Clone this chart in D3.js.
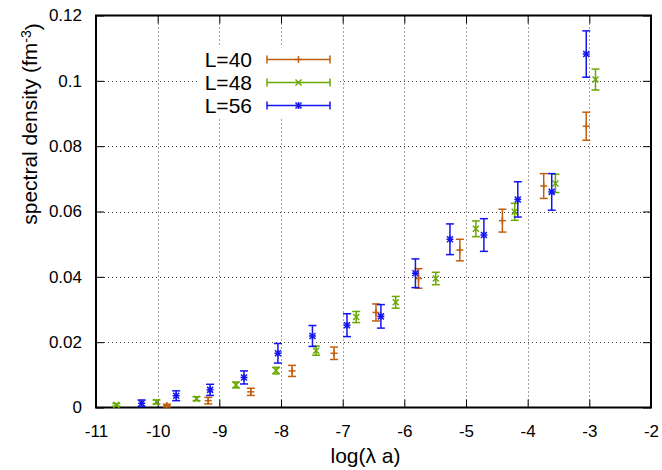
<!DOCTYPE html>
<html lang="en">
<head>
    <meta charset="UTF-8">
    <script src="https://cdn.jsdelivr.net/npm/d3@7/dist/d3.min.js"></script>
    <title>Spectral density</title>
    <style>
        body { margin: 0; background: #fff; }
        text { font-family: "Liberation Sans", Arial, sans-serif; }
    </style>
</head>
<body>
    <script>
        // L=40
        var x40 = [-9.85, -9.18, -8.49, -7.82, -7.14, -6.46, -5.77, -5.10, -4.41, -3.74, -3.05];
        var y40 = [0.0006, 0.0021, 0.0048, 0.0112, 0.0166, 0.0291, 0.0395, 0.0482, 0.0572, 0.0678, 0.0861];
        var e40 = [0.0004, 0.0010, 0.0011, 0.0017, 0.0019, 0.0026, 0.0030, 0.0033, 0.0035, 0.0038, 0.0043];
        // L=48
        var x48 = [-10.67, -10.02, -9.37, -8.73, -8.08, -7.43, -6.78, -6.14, -5.49, -4.84, -4.21, -3.55, -2.90];
        var y48 = [0.0008, 0.0017, 0.0027, 0.0069, 0.0113, 0.0174, 0.0277, 0.0322, 0.0395, 0.0547, 0.0599, 0.0686, 0.1004];
        var e48 = [0.0004, 0.0006, 0.0006, 0.0009, 0.0010, 0.0014, 0.0017, 0.0018, 0.0019, 0.0024, 0.0026, 0.0028, 0.0032];
        // L=56
        var x56 = [-10.26, -9.70, -9.15, -8.60, -8.05, -7.49, -6.93, -6.38, -5.82, -5.26, -4.71, -4.16, -3.61, -3.05];
        var y56 = [0.0013, 0.0036, 0.0054, 0.0092, 0.0166, 0.0219, 0.0252, 0.0279, 0.0411, 0.0515, 0.0528, 0.0637, 0.0660, 0.1082];
        var e56 = [0.0010, 0.0015, 0.0017, 0.0020, 0.0030, 0.0032, 0.0035, 0.0036, 0.0044, 0.0047, 0.0050, 0.0054, 0.0056, 0.0071];

        var xTicks = [-11, -10, -9, -8, -7, -6, -5, -4, -3, -2];
        var yTicks = [0, 0.02, 0.04, 0.06, 0.08, 0.1, 0.12];
        var yTickLabels = ["0", "0.02", "0.04", "0.06", "0.08", "0.1", "0.12"];

        var series = [
            { name: "L=40", x: x40, y: y40, e: e40, color: "#c0600e", marker: "plus" },
            { name: "L=48", x: x48, y: y48, e: e48, color: "#68a800", marker: "cross" },
            { name: "L=56", x: x56, y: y56, e: e56, color: "#1414f0", marker: "star" }
        ];

        var width = 662, height = 470;
        var pL = 96, pR = 651, pT = 15.5, pB = 407.5;

        var x = d3.scaleLinear().domain([-11, -2]).range([pL, pR]);
        var y = d3.scaleLinear().domain([0, 0.12]).range([pB, pT]);

        var svg = d3.select("body").append("svg").attr("width", width).attr("height", height);

        // grid
        var grid = svg.append("g").attr("stroke", "#444").attr("stroke-width", 1).attr("stroke-dasharray", "1,3");
        grid.selectAll(".gx").data(xTicks.slice(1, -1)).enter().append("line")
            .attr("x1", function (d) { return Math.round(x(d)) + 0.5; })
            .attr("x2", function (d) { return Math.round(x(d)) + 0.5; })
            .attr("y1", pT).attr("y2", pB);
        grid.selectAll(".gy").data(yTicks.slice(1, -1)).enter().append("line")
            .attr("y1", function (d) { return Math.round(y(d)) + 0.5; })
            .attr("y2", function (d) { return Math.round(y(d)) + 0.5; })
            .attr("x1", pL).attr("x2", pR);

        // axes with inward ticks on all sides
        var tl = 8;
        var xb = d3.axisBottom(x).tickValues(xTicks).tickSize(-tl).tickPadding(tl + 9).tickFormat(d3.format("d"));
        var xt = d3.axisTop(x).tickValues(xTicks).tickSize(-tl).tickFormat("");
        var yl = d3.axisLeft(y).tickValues(yTicks).tickSize(-tl).tickPadding(tl + 6)
            .tickFormat(function (d, i) { return yTickLabels[i]; });
        var yr = d3.axisRight(y).tickValues(yTicks).tickSize(-tl).tickFormat("");

        function styleAxis(g) {
            g.selectAll(".domain").remove();
            g.selectAll("line").attr("stroke", "#000").attr("stroke-width", 1);
            g.selectAll("text").attr("fill", "#000").style("font-size", "17px")
                .style("font-family", "'Liberation Sans', Arial, sans-serif");
        }
        svg.append("g").attr("transform", "translate(0," + pB + ")").call(xb).call(styleAxis)
            .selectAll("text").text(function (d) { return String(d); });
        svg.append("g").attr("transform", "translate(0," + pT + ")").call(xt).call(styleAxis);
        svg.append("g").attr("transform", "translate(" + pL + ",0)").call(yl).call(styleAxis);
        svg.append("g").attr("transform", "translate(" + pR + ",0)").call(yr).call(styleAxis);

        // legend background (hides grid)
        svg.append("rect").attr("x", 197).attr("y", 47).attr("width", 143).attr("height", 70).attr("fill", "#fff");

        // frame
        svg.append("rect").attr("x", pL).attr("y", pT).attr("width", pR - pL).attr("height", pB - pT)
            .attr("fill", "none").attr("stroke", "#000").attr("stroke-width", 2);

        function drawMarker(g, type, cx, cy) {
            var s = 3.5;
            if (type === "plus" || type === "star") {
                g.append("line").attr("x1", cx - s).attr("x2", cx + s).attr("y1", cy).attr("y2", cy);
                g.append("line").attr("x1", cx).attr("x2", cx).attr("y1", cy - s).attr("y2", cy + s);
            }
            if (type === "cross" || type === "star") {
                var c = 3;
                g.append("line").attr("x1", cx - c).attr("x2", cx + c).attr("y1", cy - c).attr("y2", cy + c);
                g.append("line").attr("x1", cx - c).attr("x2", cx + c).attr("y1", cy + c).attr("y2", cy - c);
            }
        }

        var cap = 4;
        series.forEach(function (s, k) {
            var g = svg.append("g").attr("stroke", s.color).attr("stroke-width", 1.5).attr("fill", "none");
            s.x.forEach(function (xv, i) {
                var cx = x(xv), y0 = y(s.y[i] - s.e[i]), y1 = y(s.y[i] + s.e[i]);
                g.append("line").attr("x1", cx).attr("x2", cx).attr("y1", y0).attr("y2", y1);
                g.append("line").attr("x1", cx - cap).attr("x2", cx + cap).attr("y1", y0).attr("y2", y0);
                g.append("line").attr("x1", cx - cap).attr("x2", cx + cap).attr("y1", y1).attr("y2", y1);
                drawMarker(g, s.marker, cx, y(s.y[i]));
            });

            // legend entry
            var ly = 59.5 + k * 23;
            svg.append("text").attr("x", 252).attr("y", ly).attr("dy", "0.35em").attr("text-anchor", "end")
                .style("font-size", "21px").attr("fill", "#000").text(s.name);
            var lg = svg.append("g").attr("stroke", s.color).attr("stroke-width", 1.5);
            lg.append("line").attr("x1", 267).attr("x2", 330).attr("y1", ly).attr("y2", ly);
            lg.append("line").attr("x1", 267).attr("x2", 267).attr("y1", ly - cap).attr("y2", ly + cap);
            lg.append("line").attr("x1", 330).attr("x2", 330).attr("y1", ly - cap).attr("y2", ly + cap);
            drawMarker(lg, s.marker, 298.5, ly);
        });

        // axis labels
        svg.append("text").attr("x", (pL + pR) / 2 - 8).attr("y", 463).attr("text-anchor", "middle")
            .style("font-size", "21px").attr("fill", "#000").text("log(λ a)");
        var ylab = svg.append("text").attr("transform", "translate(37,124) rotate(-90)").attr("text-anchor", "middle")
            .style("font-size", "21px").attr("fill", "#000");
        ylab.append("tspan").text("spectral density (fm");
        ylab.append("tspan").attr("dy", "-0.45em").style("font-size", "14px").text("-3");
        ylab.append("tspan").attr("dy", "0.45em").text(")");
    </script>
</body>
</html>
